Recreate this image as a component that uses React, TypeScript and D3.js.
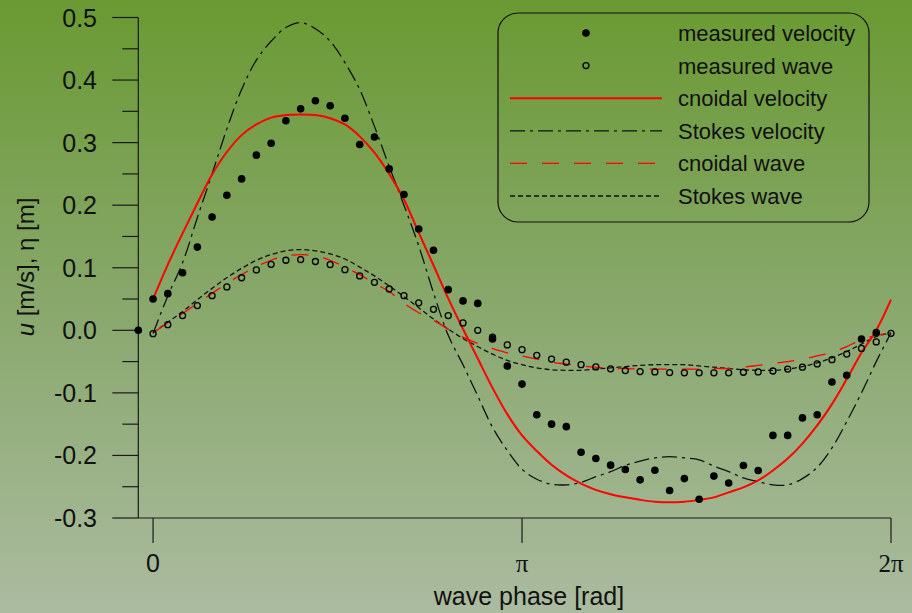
import { useEffect, useRef } from 'react'
import * as d3 from 'd3'

// sample spacing: 50 samples per wave period
const STEP = (2 * Math.PI) / 50

// measured velocity, first sample sits one step before 0 (k = -1 .. 49)
const measuredVelocity = [
  0.0, 0.05, 0.0586, 0.092, 0.133, 0.181, 0.216, 0.242, 0.28, 0.299, 0.335,
  0.354, 0.367, 0.359, 0.339, 0.297, 0.309, 0.258, 0.217, 0.162, 0.128,
  0.065, 0.047, 0.043, -0.0137, -0.057, -0.086, -0.135, -0.15, -0.154, -0.195,
  -0.205, -0.2155, -0.2225, -0.239, -0.2236, -0.256, -0.237, -0.27, -0.233, -0.244,
  -0.216, -0.224, -0.168, -0.168, -0.14, -0.135, -0.0825, -0.072, -0.0138, -0.0037,
]

// measured wave, k = 0 .. 50
const measuredWave = [
  -0.0053, 0.009, 0.0235, 0.0395, 0.0554, 0.0693, 0.084, 0.0965, 0.1055, 0.112,
  0.113, 0.11, 0.105, 0.097, 0.087, 0.0767, 0.066, 0.0554, 0.044, 0.0336,
  0.0235, 0.0118, 0.0, -0.011, -0.0233, -0.031, -0.04, -0.046, -0.051, -0.055,
  -0.0585, -0.0615, -0.0644, -0.066, -0.0665, -0.0676, -0.068, -0.068, -0.068, -0.068,
  -0.067, -0.0665, -0.065, -0.062, -0.059, -0.0537, -0.047, -0.038, -0.029, -0.0185,
  -0.0048,
]

// theory curves, k = 0 .. 50
const cnoidalVelocity = [
  0.05, 0.105, 0.155, 0.203, 0.249, 0.285, 0.312, 0.329, 0.34, 0.344,
  0.345, 0.344, 0.339, 0.329, 0.31, 0.284, 0.25, 0.209, 0.156, 0.104,
  0.051, 0.002, -0.045, -0.092, -0.134, -0.168, -0.193, -0.215, -0.232, -0.245,
  -0.255, -0.262, -0.267, -0.271, -0.274, -0.275, -0.274, -0.271, -0.267, -0.259,
  -0.251, -0.24, -0.224, -0.205, -0.181, -0.152, -0.118, -0.078, -0.036, 0.0,
  0.049,
]

const stokesVelocity = [
  -0.005, 0.055, 0.108, 0.18, 0.25, 0.322, 0.385, 0.432, 0.462, 0.484,
  0.492, 0.482, 0.462, 0.428, 0.385, 0.326, 0.262, 0.2, 0.135, 0.06,
  -0.008, -0.055, -0.105, -0.155, -0.192, -0.222, -0.238, -0.246, -0.247, -0.243,
  -0.234, -0.226, -0.216, -0.209, -0.204, -0.202, -0.204, -0.207, -0.217, -0.226,
  -0.236, -0.242, -0.247, -0.247, -0.237, -0.219, -0.188, -0.146, -0.1, -0.05,
  -0.004,
]

const cnoidalWave = [
  -0.004, 0.012, 0.027, 0.043, 0.059, 0.075, 0.089, 0.102, 0.112, 0.119,
  0.121, 0.119, 0.112, 0.101, 0.089, 0.075, 0.062, 0.043, 0.028, 0.016,
  0.002, -0.011, -0.021, -0.029, -0.036, -0.041, -0.046, -0.051, -0.054, -0.057,
  -0.059, -0.061, -0.061, -0.062, -0.062, -0.062, -0.062, -0.062, -0.061, -0.061,
  -0.059, -0.056, -0.053, -0.05, -0.046, -0.041, -0.035, -0.026, -0.015, -0.008,
  -0.004,
]

const stokesWave = [
  -0.004, 0.013, 0.03, 0.049, 0.067, 0.084, 0.099, 0.112, 0.121, 0.127,
  0.129, 0.127, 0.122, 0.114, 0.101, 0.087, 0.071, 0.054, 0.036, 0.018,
  0.002, -0.013, -0.026, -0.038, -0.048, -0.055, -0.06, -0.063, -0.064, -0.064,
  -0.062, -0.06, -0.058, -0.056, -0.055, -0.055, -0.055, -0.057, -0.059, -0.061,
  -0.063, -0.064, -0.064, -0.062, -0.058, -0.052, -0.044, -0.034, -0.022, -0.01,
  -0.004,
]

const yMajorTicks = [-0.3, -0.2, -0.1, 0.0, 0.1, 0.2, 0.3, 0.4, 0.5]
const yMinorTicks = [-0.25, -0.15, -0.05, 0.05, 0.15, 0.25, 0.35, 0.45]
const xTicks = [0, Math.PI, 2 * Math.PI]
const xTickLabels = ['0', 'π', '2π']

const legendItems = [
  { label: 'measured velocity', kind: 'dot' },
  { label: 'measured wave', kind: 'ring' },
  { label: 'cnoidal velocity', kind: 'line', color: '#ff0000', dash: null, width: 2 },
  { label: 'Stokes velocity', kind: 'line', color: '#111', dash: '15,5,3,5', width: 1.3 },
  { label: 'cnoidal wave', kind: 'line', color: '#ff0000', dash: '17,15', width: 1.3 },
  { label: 'Stokes wave', kind: 'line', color: '#111', dash: '5,3', width: 1.3 },
]

const W = 912
const H = 613
const SANS = 'Arial, "Liberation Sans", Helvetica, sans-serif'
const SERIF = '"Times New Roman", "Liberation Serif", serif'

export default function App() {
  const svgRef = useRef<SVGSVGElement>(null)

  useEffect(() => {
    if (!svgRef.current) return
    const svg = d3.select(svgRef.current)
    svg.selectAll('*').remove()

    const x = d3.scaleLinear().domain([-STEP, 2 * Math.PI]).range([138.3, 891])
    const y = d3.scaleLinear().domain([-0.3, 0.5]).range([518, 17.5])

    // background gradient
    const grad = svg.append('defs').append('linearGradient')
      .attr('id', 'bg').attr('x1', 0).attr('x2', 0).attr('y1', 0).attr('y2', 1)
    grad.append('stop').attr('offset', '0%').attr('stop-color', '#6a9a32')
    grad.append('stop').attr('offset', '50%').attr('stop-color', '#88a86c')
    grad.append('stop').attr('offset', '100%').attr('stop-color', '#abbba0')
    svg.append('rect').attr('width', W).attr('height', H).attr('fill', 'url(#bg)')

    const axisColor = '#1a1a1a'
    // plain hyphen for negatives, like the original
    const fmt = (d: number) => d3.format('.1f')(d).replace('−', '-')

    // y axis
    svg.append('line')
      .attr('x1', x(-STEP)).attr('x2', x(-STEP))
      .attr('y1', y(0.5)).attr('y2', y(-0.3))
      .attr('stroke', axisColor).attr('stroke-width', 1.2)
    svg.selectAll('.ymaj').data(yMajorTicks).enter().append('line')
      .attr('x1', x(-STEP) - 26).attr('x2', x(-STEP))
      .attr('y1', d => y(d)).attr('y2', d => y(d))
      .attr('stroke', axisColor).attr('stroke-width', 1.2)
    svg.selectAll('.ymin').data(yMinorTicks).enter().append('line')
      .attr('x1', x(-STEP) - 16).attr('x2', x(-STEP))
      .attr('y1', d => y(d)).attr('y2', d => y(d))
      .attr('stroke', axisColor).attr('stroke-width', 1.2)
    svg.selectAll('.ylab').data(yMajorTicks).enter().append('text')
      .attr('x', 97).attr('y', d => y(d)).attr('dy', '0.36em')
      .attr('text-anchor', 'end')
      .style('font-family', SANS).style('font-size', '25px').attr('fill', '#111')
      .text(d => fmt(d))

    // x axis
    svg.append('line')
      .attr('x1', x(-STEP)).attr('x2', x(2 * Math.PI))
      .attr('y1', y(-0.3)).attr('y2', y(-0.3))
      .attr('stroke', axisColor).attr('stroke-width', 1.2)
    svg.selectAll('.xt').data(xTicks).enter().append('line')
      .attr('x1', d => x(d)).attr('x2', d => x(d))
      .attr('y1', y(-0.3)).attr('y2', y(-0.3) + 25)
      .attr('stroke', axisColor).attr('stroke-width', 1.2)
    svg.selectAll('.xl').data(xTicks).enter().append('text')
      .attr('x', d => x(d)).attr('y', 572)
      .attr('text-anchor', 'middle')
      .style('font-family', (_d, i) => (i === 0 ? SANS : SERIF))
      .style('font-size', '25px').attr('fill', '#111')
      .text((_d, i) => xTickLabels[i])

    svg.append('text')
      .attr('x', 529).attr('y', 605).attr('text-anchor', 'middle')
      .style('font-family', SANS).style('font-size', '25px').attr('fill', '#111')
      .text('wave phase [rad]')

    const yTitle = svg.append('text')
      .attr('transform', 'translate(34,267) rotate(-90)')
      .attr('text-anchor', 'middle')
      .style('font-family', SANS).style('font-size', '24px').attr('fill', '#111')
    yTitle.append('tspan').style('font-style', 'italic').text('u')
    yTitle.append('tspan').text(' [m/s], η [m]')

    // curves
    const line = d3.line<number>()
      .x((_d, i) => x(i * STEP))
      .y(d => y(d))
      .curve(d3.curveCatmullRom)

    const curves = [
      { data: stokesWave, color: '#111', dash: '5,3', width: 1.3 },
      { data: cnoidalWave, color: '#ff0000', dash: '17,15', width: 1.3 },
      { data: stokesVelocity, color: '#111', dash: '15,5,3,5', width: 1.3 },
      { data: cnoidalVelocity, color: '#ff0000', dash: null, width: 2 },
    ]
    curves.forEach(c => {
      svg.append('path')
        .datum(c.data)
        .attr('fill', 'none')
        .attr('stroke', c.color)
        .attr('stroke-width', c.width)
        .attr('stroke-dasharray', c.dash)
        .attr('d', line)
    })

    // measured points
    svg.selectAll('.ring').data(measuredWave).enter().append('circle')
      .attr('cx', (_d, i) => x(i * STEP)).attr('cy', d => y(d))
      .attr('r', 3).attr('fill', 'none')
      .attr('stroke', '#000').attr('stroke-width', 1.3)
    svg.selectAll('.dot').data(measuredVelocity).enter().append('circle')
      .attr('cx', (_d, i) => x((i - 1) * STEP)).attr('cy', d => y(d))
      .attr('r', 3.8).attr('fill', '#000')

    // legend
    const legend = svg.append('g')
    legend.append('rect')
      .attr('x', 498).attr('y', 13).attr('width', 371).attr('height', 209)
      .attr('rx', 20).attr('ry', 20)
      .attr('fill', 'none').attr('stroke', '#111').attr('stroke-width', 1.2)
    legendItems.forEach((item, i) => {
      const cy = 33 + i * 32.6
      if (item.kind === 'dot') {
        legend.append('circle').attr('cx', 586).attr('cy', cy).attr('r', 3.8).attr('fill', '#000')
      } else if (item.kind === 'ring') {
        legend.append('circle').attr('cx', 586).attr('cy', cy).attr('r', 3)
          .attr('fill', 'none').attr('stroke', '#000').attr('stroke-width', 1.3)
      } else {
        legend.append('line')
          .attr('x1', 510).attr('x2', 662).attr('y1', cy).attr('y2', cy)
          .attr('stroke', item.color!).attr('stroke-width', item.width!)
          .attr('stroke-dasharray', item.dash)
      }
      legend.append('text')
        .attr('x', 678).attr('y', cy).attr('dy', '0.36em')
        .style('font-family', SANS).style('font-size', '22px').attr('fill', '#111')
        .text(item.label)
    })
  }, [])

  return (
    <svg
      ref={svgRef}
      width={W}
      height={H}
      style={{ position: 'absolute', left: 0, top: 0, display: 'block' }}
    ></svg>
  )
}
